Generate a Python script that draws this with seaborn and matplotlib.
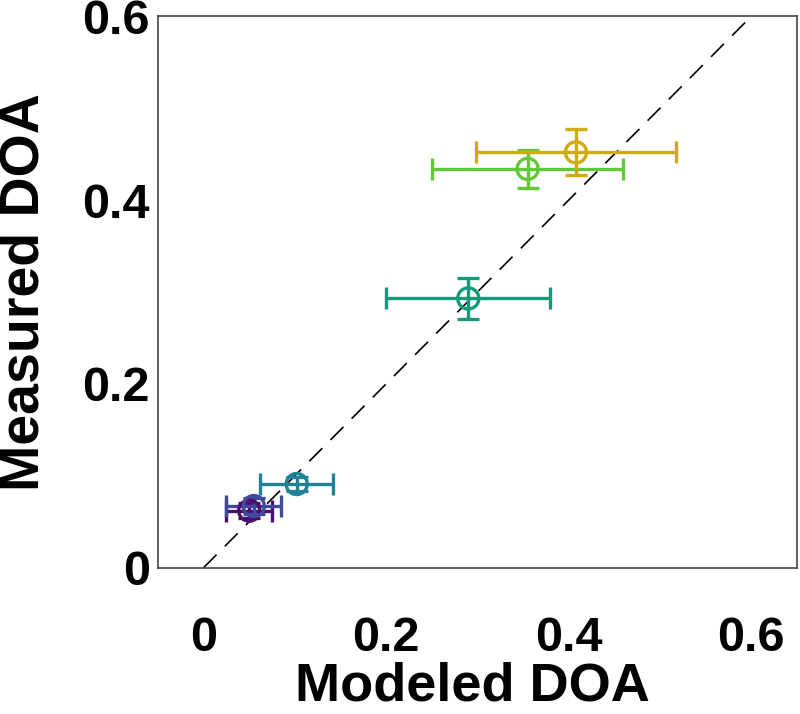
import numpy as np
import pandas as pd
import seaborn as sns
import matplotlib
matplotlib.use("Agg")
import matplotlib.pyplot as plt

# Data
modeled = [0.050, 0.055, 0.102, 0.290, 0.355, 0.408]
measured = [0.062, 0.067, 0.091, 0.293, 0.434, 0.452]
modeled_err = [0.025, 0.030, 0.040, 0.090, 0.105, 0.110]
measured_err = [0.008, 0.009, 0.008, 0.022, 0.021, 0.025]
colors = ['#4b0c6b', '#3e4a9e', '#1f8296', '#16997a', '#62c83a', '#cfab10']
xticks = [0, 0.2, 0.4, 0.6]
yticks = [0, 0.2, 0.4, 0.6]
tick_labels = ['0', '0.2', '0.4', '0.6']

df = pd.DataFrame({"modeled": modeled, "measured": measured,
                   "xerr": modeled_err, "yerr": measured_err,
                   "grp": [str(i) for i in range(len(modeled))]})

sns.set_theme(style="white")
plt.rcParams['font.family'] = ['Liberation Sans', 'DejaVu Sans']
plt.rcParams['font.weight'] = 'bold'
plt.rcParams['text.color'] = 'black'
plt.rcParams['axes.labelcolor'] = 'black'

fig = plt.figure(figsize=(8.0, 7.14), dpi=100)
ax = fig.add_axes([0.1975, 0.205, 0.7985, 0.772])

# identity line
ident = pd.DataFrame({"x": [0, 0.6], "y": [0, 0.6]})
sns.lineplot(data=ident, x="x", y="y", ax=ax, color='black', lw=1.2,
             linestyle=(0, (11, 7)), zorder=1)

for i, row in df.iterrows():
    ax.errorbar(row.modeled, row.measured, xerr=row.xerr, yerr=row.yerr,
                fmt='none', ecolor=colors[i], elinewidth=2.4, capsize=8,
                capthick=2.4, zorder=2)

sns.scatterplot(data=df, x="modeled", y="measured", hue="grp",
                palette=colors, ax=ax, s=230, marker='o',
                linewidth=2.4, legend=False, zorder=3)
coll = ax.collections[-1]
coll.set_facecolor('none')
coll.set_edgecolors(colors)

ax.set_xlim(-0.05, 0.65)
ax.set_ylim(0, 0.6)
ax.set_xticks(xticks)
ax.set_yticks(yticks)
ax.set_xticklabels(tick_labels)
ax.set_yticklabels(tick_labels)
ax.tick_params(direction='in', length=6, width=1, colors='#333333',
               labelsize=35, labelcolor='black')
ax.tick_params(axis='x', pad=35)
ax.tick_params(axis='y', pad=6)
for lab in ax.get_xticklabels() + ax.get_yticklabels():
    lab.set_fontweight('bold')
for sp in ax.spines.values():
    sp.set_color('#444444')
    sp.set_linewidth(1.2)

ax.set_xlabel("Modeled DOA", fontsize=39, fontweight='bold')
ax.set_ylabel("Measured DOA", fontsize=40, fontweight='bold')
ax.xaxis.set_label_coords(0.493, -0.170)
ax.yaxis.set_label_coords(-0.168, 0.5)

fig.savefig("out.png", dpi=100)
